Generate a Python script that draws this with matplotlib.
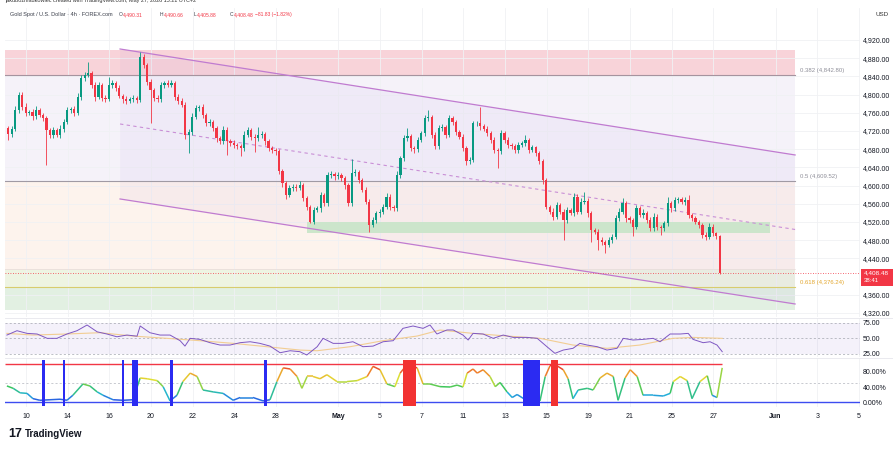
import numpy as np
import pandas as pd
import matplotlib
matplotlib.use("Agg")
import matplotlib.pyplot as plt
from matplotlib.collections import LineCollection
from matplotlib.colors import LinearSegmentedColormap, Normalize
from matplotlib.patches import Rectangle, Polygon
from matplotlib.lines import Line2D

plt.rcParams['font.family'] = ['Liberation Sans', 'DejaVu Sans']

# ------------------------------------------------------------
# data (4h candles, XAUUSD)
# ------------------------------------------------------------
first_open = 4726.0
closes = [
    4713, 4725, 4766, 4799, 4772, 4760, 4762, 4752, 4766, 4755,
    4748, 4722, 4711, 4722, 4711, 4725, 4740, 4766, 4768, 4760,
    4795, 4836, 4843, 4847, 4821, 4795, 4820, 4792, 4790, 4821,
    4825, 4815, 4797, 4790, 4786, 4790, 4792, 4788, 4883, 4865,
    4828, 4810, 4792, 4790, 4820, 4825, 4822, 4825, 4795, 4785,
    4778, 4711, 4718, 4751, 4770, 4773, 4755, 4737, 4740, 4726,
    4704, 4697, 4722, 4697, 4693, 4689, 4686, 4682, 4711, 4722,
    4707, 4704, 4711, 4713, 4697, 4682, 4678, 4675, 4631, 4605,
    4579, 4594, 4598, 4595, 4601, 4572, 4554, 4521, 4546, 4550,
    4579, 4561, 4623, 4625, 4620, 4623, 4616, 4601, 4561, 4627,
    4630, 4612, 4590, 4565, 4513, 4524, 4539, 4543, 4554, 4576,
    4554, 4550, 4623, 4660, 4704, 4708, 4682, 4680, 4700, 4715,
    4748, 4750, 4711, 4686, 4726, 4729, 4711, 4748, 4740, 4718,
    4707, 4682, 4653, 4656, 4737, 4738, 4730, 4725, 4715, 4700,
    4678, 4675, 4715, 4700, 4689, 4686, 4678, 4689, 4693, 4700,
    4678, 4684, 4671, 4653, 4612, 4554, 4543, 4532, 4557, 4543,
    4524, 4546, 4540, 4576, 4543, 4565, 4567, 4539, 4502, 4499,
    4480, 4476, 4469, 4480, 4488, 4528, 4543, 4561, 4528, 4524,
    4510, 4550, 4535, 4540, 4524, 4506, 4532, 4510, 4506, 4517,
    4561, 4550, 4568, 4570, 4565, 4568, 4535, 4528, 4521, 4513,
    4491, 4488, 4510, 4495, 4490.31, 4408.48,
]
upper_wicks = [
    6, 5, 8, 7, 6, 9, 5, 6, 8, 5,
    4, 6, 5, 7, 5, 8, 6, 7, 5, 6,
    8, 7, 6, 25, 5, 6, 7, 5, 6, 17,
    6, 5, 7, 4, 6, 5, 6, 5, 10, 7,
    5, 6, 4, 6, 7, 5, 6, 8, 5, 6,
    7, 5, 6, 8, 7, 5, 6, 5, 7, 4,
    6, 5, 8, 6, 5, 7, 4, 6, 8, 6,
    5, 6, 18, 7, 5, 6, 4, 5, 6, 5,
    4, 7, 6, 5, 8, 5, 6, 4, 7, 6,
    8, 5, 7, 6, 5, 7, 4, 6, 5, 31,
    6, 5, 4, 6, 5, 7, 6, 5, 6, 7,
    5, 4, 8, 6, 7, 18, 5, 6, 7, 6,
    8, 16, 5, 6, 7, 6, 5, 8, 6, 5,
    4, 6, 5, 7, 6, 5, 35, 6, 5, 4,
    6, 5, 8, 5, 6, 4, 5, 7, 6, 11,
    5, 6, 4, 5, 6, 5, 4, 7, 8, 5,
    6, 7, 5, 8, 6, 7, 20, 5, 6, 4,
    5, 6, 4, 7, 6, 8, 7, 12, 5, 6,
    4, 7, 6, 8, 5, 6, 7, 5, 4, 6,
    15, 5, 7, 6, 5, 6, 11, 5, 6, 4,
    5, 6, 7, 5, 4, 0.35,
]
lower_wicks = [
    12, 6, 5, 7, 6, 8, 5, 7, 6, 5,
    6, 77, 6, 7, 5, 6, 8, 5, 6, 7,
    5, 6, 7, 5, 6, 8, 5, 7, 6, 5,
    6, 7, 5, 8, 6, 5, 7, 6, 5, 6,
    7, 72, 5, 6, 7, 5, 6, 5, 7, 6,
    5, 8, 39, 6, 5, 7, 6, 5, 7, 6,
    8, 6, 5, 30, 6, 7, 5, 18, 6, 5,
    7, 30, 5, 6, 7, 5, 6, 8, 6, 7,
    9, 5, 6, 7, 5, 6, 7, 4, 6, 5,
    7, 6, 5, 6, 7, 5, 6, 8, 6, 5,
    6, 7, 5, 6, 14, 5, 6, 7, 5, 6,
    7, 6, 5, 6, 7, 5, 6, 8, 6, 5,
    6, 5, 7, 6, 5, 7, 6, 5, 7, 6,
    5, 6, 7, 6, 5, 6, 7, 5, 6, 7,
    6, 37, 5, 7, 6, 5, 7, 6, 5, 6,
    6, 5, 7, 6, 8, 6, 5, 7, 6, 5,
    44, 6, 5, 7, 6, 5, 6, 7, 26, 5,
    22, 6, 18, 5, 7, 6, 5, 6, 7, 6,
    21, 6, 5, 7, 6, 5, 6, 7, 15, 5,
    6, 7, 5, 6, 5, 7, 6, 5, 6, 7,
    6, 8, 5, 6, 7, 2.6,
]

# RSI pane (sampled along the bar index)
rsi_bars = [
    -0.4, 2.5, 5.4, 8.3, 11.2, 14, 16.9, 19.8, 22.7, 25.6,
    28.4, 31.3, 34.2, 37.1, 38, 40.8, 43.7, 46.6, 49.5, 50.9,
    52.4, 55.2, 58.1, 61, 63.9, 66.8, 69.7, 72.5, 75.4, 78.3,
    81.2, 84, 86, 89, 90.7, 93.6, 96.4, 99.3, 102.2, 105.1,
    108, 110.9, 113.7, 116.6, 119.5, 121.5, 123.5, 126.4, 128.2, 131,
    132.5, 133.9, 136.8, 139.7, 142.6, 145.5, 149.5, 152.4, 155.2, 157.5,
    159.9, 162.7, 164.7, 166.8, 169.7, 172.5, 175.4, 177.2, 180, 182.9,
    185.8, 187.8, 190.7, 193.6, 195.9, 197.3, 200.2, 202.2, 204.2, 205.7,
]
rsi_vals = [
    54.8, 61.8, 57.5, 56.5, 49.5, 49.5, 56.5, 61.8, 71, 60,
    56.5, 52, 54.8, 53, 69.4, 58.6, 54.8, 54.8, 45.7, 37,
    49.5, 47.8, 42.5, 38.7, 38.7, 42.5, 44, 41.4, 37, 26.3,
    29.5, 28, 22.6, 36, 49.5, 41.4, 41.4, 44, 36, 37,
    44, 45.7, 65.6, 69.4, 65.6, 71, 56.5, 63, 63, 54.8,
    46.8, 57.5, 56.5, 49.5, 54.8, 51, 51, 49.5, 36, 25.3,
    30.6, 33.4, 41.4, 38.7, 36, 30.6, 33.4, 49.5, 46.8, 47.8,
    49.5, 44, 56.5, 56.5, 57.5, 47.8, 42.5, 44, 38.7, 28,
]
rsi_ma_bars = [-0.4, 7.1, 16.9, 26.4, 35.9, 45.7, 55.2, 64.8, 74.5, 84, 89, 98.5,
               108, 117.8, 124.4, 133.9, 143.7, 153.2, 162.7, 172.5, 182, 191.5, 197.3, 205.7]
rsi_ma_vals = [57.5, 54.8, 56.5, 58.6, 53.2, 49.5, 45.7, 41.4, 36, 30.6, 29.5, 36,
               45.7, 53.2, 62.9, 57.5, 53.2, 49.5, 38.7, 33.4, 38.7, 49.5, 51, 49.5]

# stochastic pane
stoch_bars = [
    -0.4, 1.4, 3.4, 5.4, 7.1, 9.1, 12.0, 14.9, 16.9, 18.6,
    21.5, 23.5, 25.6, 27.3, 30.2, 33.1, 35.9, 38.0, 40.0, 42.9,
    44.6, 46.6, 48.6, 50.3, 52.4, 54.4, 56.1, 59.0, 61.9, 64.8,
    66.8, 70.5, 73.4, 75.4, 77.4, 79.2, 81.2, 83.2, 84.6, 86.1,
    87.8, 89.8, 91.8, 94.7, 97.6, 100.5, 103.4, 105.1, 107.1, 109.1,
    111.4, 112.9, 114.9, 117.8, 119.5, 121.5, 124.4, 127.3, 129.3, 131.0,
    132.2, 133.9, 135.1, 136.8, 138.8, 140.3, 141.7, 143.7, 145.2, 146.6,
    148.5, 151.2, 153.2, 154.7, 156.1, 157.5, 159.9, 161.3, 162.7, 164.2,
    166.8, 168.5, 170.5, 172.5, 174.3, 175.7, 177.7, 179.2, 181.2, 182.9,
    185.8, 188.7, 190.7, 191.6, 193.6, 195.6, 197.0, 199.3, 201.4, 202.8,
    204.2, 205.7,
]
stoch_vals = [
    42.8, 36.5, 24.5, 23, 9, 4.6, 6, 7.4, 4.6, 18,
    48, 42.8, 27, 18, 6, 4.6, 6, 64, 62, 57,
    41, 3, 18, 54.5, 77, 68, 32, 27, 23, 4.6,
    12, 12, 3, 6, 54.5, 91, 88, 68, 36.5, 68,
    68, 62, 72.7, 54.5, 54.5, 57, 68, 95, 86, 48,
    41, 77, 100, 91, 48, 48, 41, 40, 45, 40,
    77, 88, 77, 86, 68, 41, 52, 27, 12, 20,
    9, 4.6, 3, 68, 97, 100, 86, 62, 9, 32,
    36.5, 32, 64, 77, 68, 4.6, 64, 86, 68, 18,
    18, 16, 23, 54.5, 68, 57, 9, 54.5, 70, 18,
    12, 91,
]
oversold_starts = [9.6, 15.7, 32.7, 35.6, 46.6, 73.7, 148.4]
oversold_ends = [10.6, 16.4, 33.4, 37.5, 47.4, 74.5, 153.2]
overbought_starts = [113.7, 156.4]
overbought_ends = [117.5, 158.3]

# calendar
tick_dates = ['2026-04-10', '2026-04-14', '2026-04-16', '2026-04-20', '2026-04-22',
              '2026-04-24', '2026-04-28', '2026-05-01', '2026-05-05', '2026-05-07',
              '2026-05-11', '2026-05-13', '2026-05-15', '2026-05-19', '2026-05-21',
              '2026-05-25', '2026-05-27', '2026-06-01', '2026-06-03', '2026-06-05']
tick_labels = ['10', '14', '16', '20', '22', '24', '28', 'May', '5', '7',
               '11', '13', '15', '19', '21', '25', '27', 'Jun', '3', '5']
price_ticks = [4320, 4360, 4440, 4480, 4520, 4560, 4600, 4640, 4680,
               4720, 4760, 4800, 4840, 4880, 4920]

# drawings
fib_levels = [0.382, 0.5, 0.618]
fib_prices = [4842.80, 4609.52, 4376.24]
pink_top = 4898.0
low_zone_top = 4416.7
low_zone_bottom = 4326.6
fib_end = 226.7
support_x = [86.1, 219.5]
support_y = [4495.0, 4520.6]
channel_x = [32.2, 226.7]
channel_upper = [4900.2, 4667.3]
channel_lower = [4570.6, 4339.8]
countdown = '38:41'

# ------------------------------------------------------------
closes = np.array(closes, dtype=float)
opens = np.r_[first_open, closes[:-1]]
highs = np.maximum(opens, closes) + np.array(upper_wicks)
lows = np.minimum(opens, closes) - np.array(lower_wicks)
bars = np.arange(len(closes))

UP, DN = '#089981', '#f23645'
W, H = 893, 450
fig = plt.figure(figsize=(W / 100, H / 100), dpi=100)
fig.patch.set_facecolor('white')


def box(x0, y0, x1, y1):
    return [x0 / W, 1 - y1 / H, (x1 - x0) / W, (y1 - y0) / H]


ax = fig.add_axes(box(5, 8, 860, 317))
ax_rsi = fig.add_axes(box(5, 318, 860, 357), sharex=ax)
ax_st = fig.add_axes(box(5, 358, 860, 407), sharex=ax)

xmin, xmax = -0.95, 245.4
bars_per_day = 6
apr10_bar = 5.1
days = pd.bdate_range('2026-04-10', '2026-06-05')
day_idx = {d: k for k, d in enumerate(days)}
tick_pos = [apr10_bar + bars_per_day * day_idx[pd.Timestamp(d)] for d in tick_dates]

for a in (ax, ax_rsi, ax_st):
    a.set_facecolor('white')
    for s in a.spines.values():
        s.set_visible(False)
    a.set_xticks(tick_pos)
    a.set_xlim(xmin, xmax)
    a.yaxis.tick_right()
    a.tick_params(axis='y', length=0, pad=2, labelsize=5, labelcolor='#131722')
    a.tick_params(axis='x', length=0)
    a.grid(True, axis='x', color='#f0f1f4', lw=0.6)
    a.set_axisbelow(True)

# ---------------- main pane ----------------
ax.set_ylim(4311.2, 4990.3)
ax.set_yticks(price_ticks)
ax.set_yticklabels([f'{p:,.2f}' for p in price_ticks])
ax.grid(True, axis='y', color='#f0f1f4', lw=0.6)
ax.tick_params(axis='x', labelbottom=False)

fx = [xmin - 1, fib_end]
ax.fill_between(fx, fib_prices[0], pink_top, color='#f8d3d9', lw=0, zorder=0.2)
ax.fill_between(fx, fib_prices[1], fib_prices[0], color='#f5f2f9', lw=0, zorder=0.2)
ax.fill_between(fx, low_zone_top, fib_prices[1], color='#fdf3ed', lw=0, zorder=0.2)
ax.fill_between(fx, fib_prices[2], low_zone_top, color='#eef4e2', lw=0, zorder=0.2)
ax.fill_between(fx, low_zone_bottom, fib_prices[2], color='#e2f0e2', lw=0, zorder=0.2)
ax.plot(fx, [fib_prices[0]] * 2, color='#a6939f', lw=0.8, zorder=3)
ax.plot(fx, [fib_prices[1]] * 2, color='#a09aa4', lw=0.8, zorder=3)
ax.plot(fx, [fib_prices[2]] * 2, color='#d8cc6e', lw=0.8, zorder=3)
ax.plot(fx, [low_zone_top] * 2, color='#eadada', lw=0.5, zorder=3)
fib_colors = ['#8f8f99', '#8f8f99', '#e3a72f']
for lvl, p, c in zip(fib_levels, fib_prices, fib_colors):
    ax.text(fib_end + 1.5, p + 11, f'{lvl:g} ({p:,.2f})', fontsize=4.3,
            color=c, va='center', ha='left')

# parallel channel
chan = Polygon([(channel_x[0], channel_upper[0]), (channel_x[1], channel_upper[1]),
                (channel_x[1], channel_lower[1]), (channel_x[0], channel_lower[0])],
               closed=True, facecolor='#8e5fd6', alpha=0.05, lw=0, zorder=0.6)
ax.add_patch(chan)
ax.plot(channel_x, channel_upper, color='#c07bd0', lw=0.9, zorder=3)
ax.plot(channel_x, channel_lower, color='#c07bd0', lw=0.9, zorder=3)
mid = [(u + l) / 2 for u, l in zip(channel_upper, channel_lower)]
ax.plot(channel_x, mid, color='#c98fd6', lw=0.8, ls=(0, (3, 3)), zorder=3)

# support box
ax.add_patch(Rectangle((support_x[0], support_y[0]), support_x[1] - support_x[0],
                       support_y[1] - support_y[0], facecolor='#c8e5c8', lw=0,
                       alpha=0.9, zorder=1))

# current price line
ax.axhline(closes[-1], color=DN, lw=0.6, ls=(0, (1, 2)), zorder=3)

# candles
colors = np.where(closes >= opens, UP, DN)
ax.vlines(bars, lows, highs, colors=colors, lw=0.6, zorder=4)
body = np.maximum(np.abs(closes - opens), 1.5)
ax.bar(bars, body, bottom=np.minimum(opens, closes), width=0.65,
       color=colors, lw=0, zorder=5)

# ---------------- RSI pane ----------------
ax_rsi.set_ylim(19.4, 82.3)
ax_rsi.fill_between([xmin, xmax], 25, 75, color='#7e57c2', alpha=0.08, lw=0)
for lv in (25, 50, 75):
    ax_rsi.axhline(lv, color='#a3a6af', lw=0.5, ls=(0, (3, 3)))
ax_rsi.plot(rsi_ma_bars, rsi_ma_vals, color='#f2cd92', lw=0.8)
ax_rsi.plot(rsi_bars, rsi_vals, color='#7e57c2', lw=0.7)
ax_rsi.set_yticks([25, 50, 75])
ax_rsi.set_yticklabels(['25.00', '50.00', '75.00'])
ax_rsi.tick_params(axis='x', labelbottom=False)

# ---------------- stochastic pane ----------------
ax_st.set_ylim(-13.3, 117.3)
ax_st.axhline(50, color='#b2b5be', lw=0.5, ls=(0, (3, 3)))
ax_st.hlines(100, xmin, bars[-1] + 0.7, color='#f23645', lw=1.0)
ax_st.axhline(0, color='#3c4cf0', lw=1.0)
cmap = LinearSegmentedColormap.from_list(
    'stoch', ['#2c3fe6', '#22b4d8', '#3cc65c', '#e2e033', '#f08a2c', '#e5262c'])
pts = np.column_stack([stoch_bars, stoch_vals])
segs = np.stack([pts[:-1], pts[1:]], axis=1)
lc = LineCollection(segs, cmap=cmap, norm=Normalize(0, 100), lw=1.1, zorder=2)
lc.set_array((np.array(stoch_vals[:-1]) + np.array(stoch_vals[1:])) / 2)
ax_st.add_collection(lc)
for s, e in zip(oversold_starts, oversold_ends):
    ax_st.bar(s, 122.7, width=e - s, bottom=-10.7, align='edge',
              color='#2b2bf2', lw=0, zorder=3)
for s, e in zip(overbought_starts, overbought_ends):
    ax_st.bar(s, 122.7, width=e - s, bottom=-10.7, align='edge',
              color='#f23232', lw=0, zorder=3)
ax_st.set_yticks([0, 40, 80])
ax_st.set_yticklabels(['0.00%', '40.00%', '80.00%'])
ax_st.set_xticklabels(tick_labels)
ax_st.tick_params(axis='x', labelsize=5, labelcolor='#131722', pad=4)
for lab in ax_st.get_xticklabels():
    if lab.get_text() in ('May', 'Jun'):
        lab.set_fontweight('bold')

# pane separators
for yy in (317.5, 357.5):
    fig.add_artist(Line2D([5 / W, 1], [1 - yy / H] * 2, color='#e6e7ec', lw=0.6))

# ---------------- header / labels ----------------
fig.text(5 / W, 1 - 0.8 / H,
         'jakubozniadkowiec created with TradingView.com, May 27, 2026 15:21 UTC+2',
         fontsize=4, color='#333333', va='center')
hy = 1 - 14.7 / H
fig.text(10 / W, hy, 'Gold Spot / U.S. Dollar · 4h · FOREX.com', fontsize=4,
         color='#3a3e4a', va='center')
chg = closes[-1] - closes[-2]
pieces = [(119, 'O', '#3a3e4a'), (123, f'{opens[-1]:,.2f}', DN),
          (160, 'H', '#3a3e4a'), (164, f'{highs[-1]:,.2f}', DN),
          (194, 'L', '#3a3e4a'), (197, f'{lows[-1]:,.2f}', DN),
          (230, 'C', '#3a3e4a'), (234, f'{closes[-1]:,.2f}', DN),
          (255, f'\u2212{abs(chg):.2f} (\u2212{abs(chg) / closes[-2] * 100:.2f}%)', DN)]
for px, t, c in pieces:
    fig.text(px / W, hy, t, fontsize=3.6, color=c, va='center')

fig.text(876 / W, 1 - 15 / H, 'USD', fontsize=4.5, color='#333333', va='center')

# last price tag
fig.add_artist(Rectangle((861 / W, 1 - 285.5 / H), 32 / W, 16.5 / H,
                         transform=fig.transFigure, facecolor=DN, lw=0))
fig.text(864 / W, 1 - 273 / H, f'{closes[-1]:,.2f}', fontsize=4.6,
         color='white', va='center')
fig.text(864 / W, 1 - 280.8 / H, countdown, fontsize=4.3, color='white', va='center')

# footer logo
fig.text(8 / W, 1 - 434 / H, '17', fontsize=9, fontweight='heavy',
         color='#131722', va='center')
fig.text(25 / W, 1 - 434 / H, 'TradingView', fontsize=7, fontweight='bold',
         color='#131722', va='center')

fig.savefig('out.png', dpi=100, facecolor='white')
